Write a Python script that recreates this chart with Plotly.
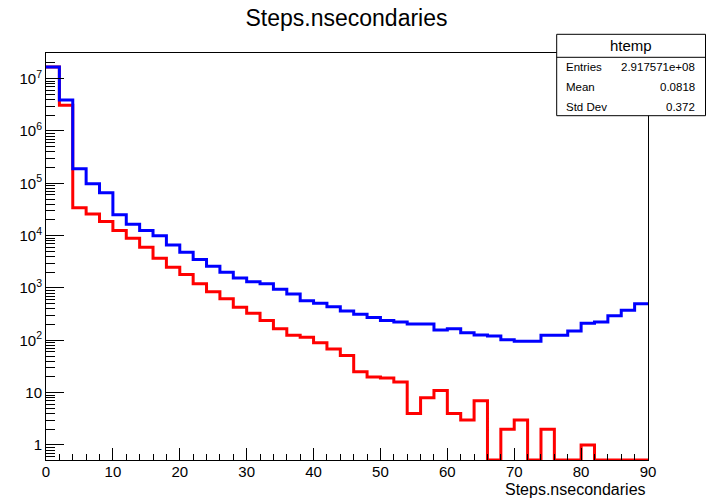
import math
import plotly.graph_objects as go

# Histogram binning: 45 bins of width 2 over [0, 90]
bin_width = 2
n_bins = 45
bin_edges = [i * bin_width for i in range(n_bins + 1)]

# Bin contents (counts per bin)
counts_blue = [1.66e7, 3.9e6, 1.9e5, 9.8e4, 6.6e4, 2.5e4, 1.66e4, 1.26e4, 1.0e4, 6.6e3,
               4.8e3, 3.5e3, 2.6e3, 2.0e3, 1.55e3, 1320, 1200, 950, 770, 570,
               510, 440, 364, 316, 272, 238, 224, 204, 204, 158,
               167, 140, 126, 121, 102, 96, 96, 125, 125, 151,
               212, 224, 295, 376, 500]
counts_red = [1.66e7, 3.1e6, 3.4e4, 2.6e4, 1.86e4, 1.25e4, 8.9e3, 6.0e3, 3.7e3, 2.5e3,
              1.8e3, 1.2e3, 850, 620, 430, 330, 240, 167, 125, 114,
              90, 68, 51, 25, 20, 19, 16, 4, 8, 11,
              4, 3, 7, 0, 2, 3, 0, 2, 0, 0,
              1, 0, 0, 0, 0]

x_ticks = list(range(0, 91, 10))
y_tick_vals = [10 ** k for k in range(0, 8)]
y_tick_text = ["1", "10"] + [f"10<sup>{k}</sup>" for k in range(2, 8)]

stats_title = "htemp"
stats_rows = [("Entries", "2.917571e+08"), ("Mean", "0.0818"), ("Std Dev", "0.372")]

# Axis limits
y_log_min, y_log_max = -0.287, 7.49
y_floor = 10 ** y_log_min

FONT = "Liberation Sans, Arial, Helvetica, sans-serif"
W, H = 707, 500
L, R, T, B = 46, 59, 53, 40
PW, PH = W - L - R, H - T - B


def px_x(px):
    return (px - L) / PW


def px_y(py):
    return (H - B - py) / PH


def step_trace(counts, color):
    # empty bins sit on the bottom of the frame on a log axis
    ys = [c if c > 0 else y_floor for c in counts]
    return go.Scatter(
        x=bin_edges,
        y=ys + [ys[-1]],
        mode="lines",
        line=dict(color=color, width=3, shape="hv"),
        hoverinfo="skip",
        showlegend=False,
    )


fig = go.Figure()
fig.add_trace(step_trace(counts_red, "#ff0000"))
fig.add_trace(step_trace(counts_blue, "#0000ff"))

minor_y = [k * 10 ** n for n in range(-1, 8) for k in range(2, 10)
           if y_log_min <= math.log10(k * 10 ** n) <= y_log_max]

fig.update_layout(
    width=W, height=H, autosize=False,
    margin=dict(l=L, r=R, t=T, b=B, pad=0),
    paper_bgcolor="white", plot_bgcolor="white",
    font=dict(family=FONT, color="black"),
    title=dict(text="Steps.nsecondaries", x=346.5 / W,
               xanchor="center", y=1 - 17.5 / H, yanchor="middle",
               font=dict(size=23, family=FONT, color="black")),
    xaxis=dict(
        range=[0, 90], showgrid=False, zeroline=False,
        showline=True, mirror=True, linecolor="black", linewidth=1,
        tickmode="array", tickvals=x_ticks,
        ticks="inside", ticklen=12, tickwidth=1, tickcolor="black",
        ticklabelstandoff=-2,
        tickfont=dict(size=15, family=FONT, color="black"),
        minor=dict(tickmode="array", tickvals=bin_edges, ticks="inside",
                   ticklen=6, tickcolor="black", tickwidth=1, showgrid=False),
    ),
    yaxis=dict(
        type="log", range=[y_log_min, y_log_max], showgrid=False, zeroline=False,
        showline=True, mirror=True, linecolor="black", linewidth=1,
        tickmode="array", tickvals=y_tick_vals, ticktext=y_tick_text,
        ticks="inside", ticklen=18, tickwidth=1, tickcolor="black",
        tickfont=dict(size=15, family=FONT, color="black"),
        minor=dict(tickmode="array", tickvals=minor_y, ticks="inside",
                   ticklen=9, tickcolor="black", tickwidth=1, showgrid=False),
    ),
)

# x-axis title, right-aligned to the frame
fig.add_annotation(text="Steps.nsecondaries", xref="paper", yref="paper",
                   x=1.0, y=px_y(489), xanchor="right", yanchor="middle",
                   showarrow=False, font=dict(size=16, family=FONT, color="black"))

# statistics box
bx0, bx1, by0, by1, bsep = 556.7, 705.5, 34.3, 115.7, 57.3
fig.add_shape(type="rect", xref="paper", yref="paper", layer="above",
              x0=px_x(bx0), x1=px_x(bx1), y0=px_y(by1), y1=px_y(by0),
              line=dict(color="black", width=1), fillcolor="white")
fig.add_shape(type="line", xref="paper", yref="paper", layer="above",
              x0=px_x(bx0), x1=px_x(bx1), y0=px_y(bsep), y1=px_y(bsep),
              line=dict(color="black", width=1))
fig.add_annotation(text=stats_title, xref="paper", yref="paper",
                   x=px_x((bx0 + bx1) / 2), y=px_y(45.7), xanchor="center",
                   yanchor="middle", showarrow=False,
                   font=dict(size=15, family=FONT, color="black"))
for (name, val), ypix in zip(stats_rows, [67.3, 87.3, 106.7]):
    fig.add_annotation(text=name, xref="paper", yref="paper", x=px_x(564),
                       y=px_y(ypix), xanchor="left", yanchor="middle",
                       showarrow=False, font=dict(size=11.5, family=FONT, color="black"))
    fig.add_annotation(text=val, xref="paper", yref="paper", x=px_x(697),
                       y=px_y(ypix), xanchor="right", yanchor="middle",
                       showarrow=False, font=dict(size=11.5, family=FONT, color="black"))

fig.write_html("out.html")
